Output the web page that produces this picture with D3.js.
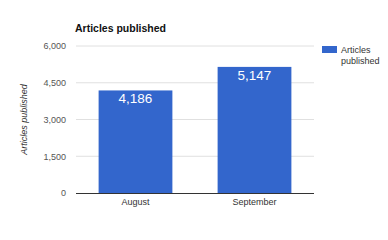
<!DOCTYPE html>
<html>
<head>
<meta charset="utf-8">
<script src="https://cdn.jsdelivr.net/npm/d3@7"></script>
<style>
  body { margin: 0; background: #fff; }
  text { font-family: Arial, "Liberation Sans", sans-serif; }
</style>
</head>
<body>
<div id="chart"></div>
<script>
// Data
const months = ["August", "September"];
const articles = [4186, 5147];
const yTicks = [0, 1500, 3000, 4500, 6000];
const seriesName = "Articles published";

const W = 388, H = 240;
const margin = {top: 46, right: 74, bottom: 47, left: 76};
const width = W - margin.left - margin.right;
const height = H - margin.top - margin.bottom;

const svg = d3.select("#chart").append("svg")
  .attr("width", W)
  .attr("height", H);

const g = svg.append("g")
  .attr("transform", `translate(${margin.left},${margin.top})`);

// Scales
const x = d3.scaleBand()
  .domain(months)
  .range([0, width])
  .paddingInner(0.38)
  .paddingOuter(0.19);

const y = d3.scaleLinear()
  .domain([0, 6000])
  .range([height, 0]);

// Gridlines
g.selectAll(".grid")
  .data(yTicks.filter(d => d > 0))
  .join("line")
  .attr("x1", 0)
  .attr("x2", width)
  .attr("y1", d => y(d))
  .attr("y2", d => y(d))
  .attr("stroke", "#e0e0e0")
  .attr("stroke-width", 1);

// Y tick labels
const yAxis = d3.axisLeft(y)
  .tickValues(yTicks)
  .tickFormat(d3.format(","))
  .tickSize(0)
  .tickPadding(10);

g.append("g")
  .call(yAxis)
  .call(s => s.select(".domain").remove())
  .selectAll("text")
  .attr("fill", "#555")
  .style("font-size", "9px");

// Bars
g.selectAll(".bar")
  .data(articles)
  .join("rect")
  .attr("x", (d, i) => x(months[i]))
  .attr("y", d => y(d))
  .attr("width", x.bandwidth())
  .attr("height", d => height - y(d))
  .attr("fill", "#3366cc");

// Bar value labels
g.selectAll(".val")
  .data(articles)
  .join("text")
  .attr("x", (d, i) => x(months[i]) + x.bandwidth() / 2)
  .attr("y", d => y(d) + 13)
  .attr("text-anchor", "middle")
  .attr("fill", "#fff")
  .style("font-size", "13.5px")
  .text(d3.format(","));

// Baseline
g.append("line")
  .attr("x1", 0)
  .attr("x2", width)
  .attr("y1", height + 0.5)
  .attr("y2", height + 0.5)
  .attr("stroke", "#333");

// X labels
const xAxis = d3.axisBottom(x).tickSize(0).tickPadding(6);
g.append("g")
  .attr("transform", `translate(0,${height})`)
  .call(xAxis)
  .call(s => s.select(".domain").remove())
  .selectAll("text")
  .attr("fill", "#333")
  .style("font-size", "9px");

// Title
svg.append("text")
  .attr("x", margin.left - 1)
  .attr("y", 32)
  .attr("font-weight", "bold")
  .attr("fill", "#111")
  .style("font-size", "10.5px")
  .text(seriesName);

// Y axis title
svg.append("text")
  .attr("transform", `translate(27,${margin.top + height / 2}) rotate(-90)`)
  .attr("text-anchor", "middle")
  .attr("font-style", "italic")
  .attr("fill", "#333")
  .style("font-size", "9px")
  .text(seriesName);

// Legend
const legend = svg.append("g").attr("transform", "translate(322,46)");
legend.append("rect")
  .attr("width", 15)
  .attr("height", 7)
  .attr("fill", "#3366cc");
legend.append("text")
  .attr("x", 19)
  .attr("y", 7)
  .attr("fill", "#333")
  .style("font-size", "9px")
  .selectAll("tspan")
  .data(["Articles", "published"])
  .join("tspan")
  .attr("x", 19)
  .attr("dy", (d, i) => i ? 10.5 : 0)
  .text(d => d);
</script>
</body>
</html>
